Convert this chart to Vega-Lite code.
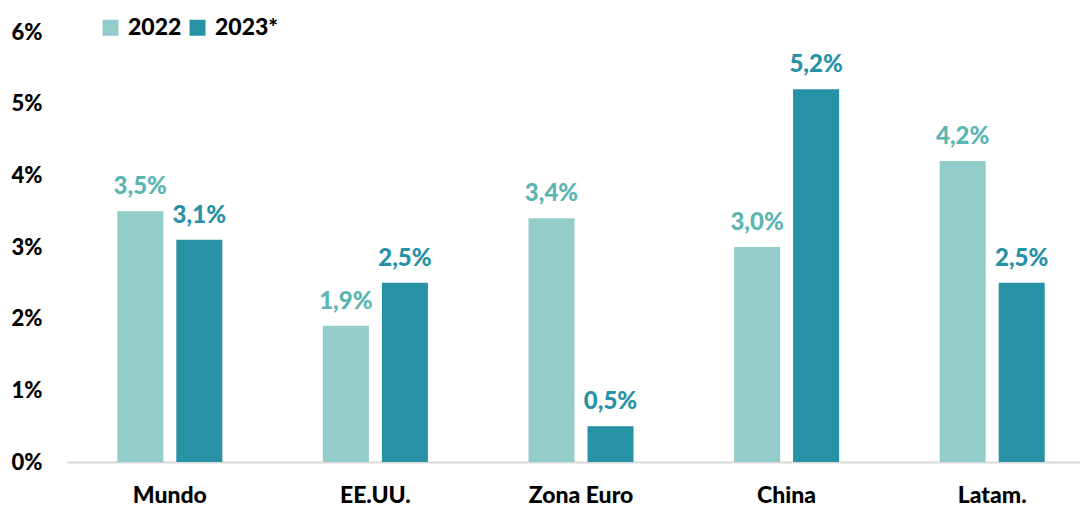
{
  "$schema": "https://vega.github.io/schema/vega-lite/v6.json",
  "autosize": "none",
  "width": 1013,
  "height": 430,
  "padding": {"left": 67, "top": 32, "right": 0, "bottom": 44},
  "background": "white",
  "config": {
    "view": {"stroke": null},
    "locale": {"number": {"decimal": ",", "thousands": ".", "grouping": [3], "currency": ["", " €"]}},
    "font": "Lato"
  },
  "data": {
    "values": [
      {"region": "Mundo", "year": "2022", "value": 0.035},
      {"region": "Mundo", "year": "2023*", "value": 0.031},
      {"region": "EE.UU.", "year": "2022", "value": 0.019},
      {"region": "EE.UU.", "year": "2023*", "value": 0.025},
      {"region": "Zona Euro", "year": "2022", "value": 0.034},
      {"region": "Zona Euro", "year": "2023*", "value": 0.005},
      {"region": "China", "year": "2022", "value": 0.030},
      {"region": "China", "year": "2023*", "value": 0.052},
      {"region": "Latam.", "year": "2022", "value": 0.042},
      {"region": "Latam.", "year": "2023*", "value": 0.025}
    ]
  },
  "encoding": {
    "x": {
      "field": "region", "type": "nominal", "sort": null,
      "scale": {"range": [0, 1028], "paddingInner": 0.489, "paddingOuter": 0.2445},
      "axis": {"title": null, "labelAngle": 0, "labelFont": "Lato", "labelFontWeight": 900, "labelFontSize": 23, "labelColor": "#000000", "labelPadding": 22, "ticks": false, "domainColor": "#d9d9d9", "domainWidth": 2}
    },
    "xOffset": {"field": "year", "type": "nominal", "scale": {"paddingInner": 0.22, "paddingOuter": 0}},
    "y": {
      "field": "value", "type": "quantitative",
      "scale": {"domain": [0, 0.06], "nice": false},
      "axis": {"title": null, "format": ".0%", "values": [0, 0.01, 0.02, 0.03, 0.04, 0.05, 0.06], "grid": false, "ticks": false, "domain": false, "labelFont": "Lato", "labelFontWeight": 900, "labelFontSize": 22, "labelColor": "#000000", "labelPadding": 25}
    }
  },
  "layer": [
    {
      "mark": {"type": "bar"},
      "encoding": {
        "color": {
          "field": "year", "type": "nominal",
          "scale": {"domain": ["2022", "2023*"], "range": ["#92CDCA", "#2791A5"]},
          "legend": {"title": null, "orient": "none", "legendX": 32, "legendY": -16, "direction": "horizontal", "symbolType": "square", "symbolSize": 256, "symbolStrokeWidth": 0, "symbolOpacity": 1, "labelFont": "Lato", "labelFontWeight": 900, "labelFontSize": 23, "labelColor": "#000000", "labelOffset": 6, "columnPadding": 4}
        }
      }
    },
    {
      "mark": {"type": "text", "baseline": "bottom", "dy": -12, "fontSize": 24, "fontWeight": 900, "font": "Lato"},
      "encoding": {
        "text": {"field": "value", "type": "quantitative", "format": ".1%"},
        "color": {"field": "year", "type": "nominal", "scale": {"domain": ["2022", "2023*"], "range": ["#5BB5B0", "#2791A5"]}, "legend": null}
      }
    }
  ],
  "resolve": {"scale": {"color": "independent"}}
}
